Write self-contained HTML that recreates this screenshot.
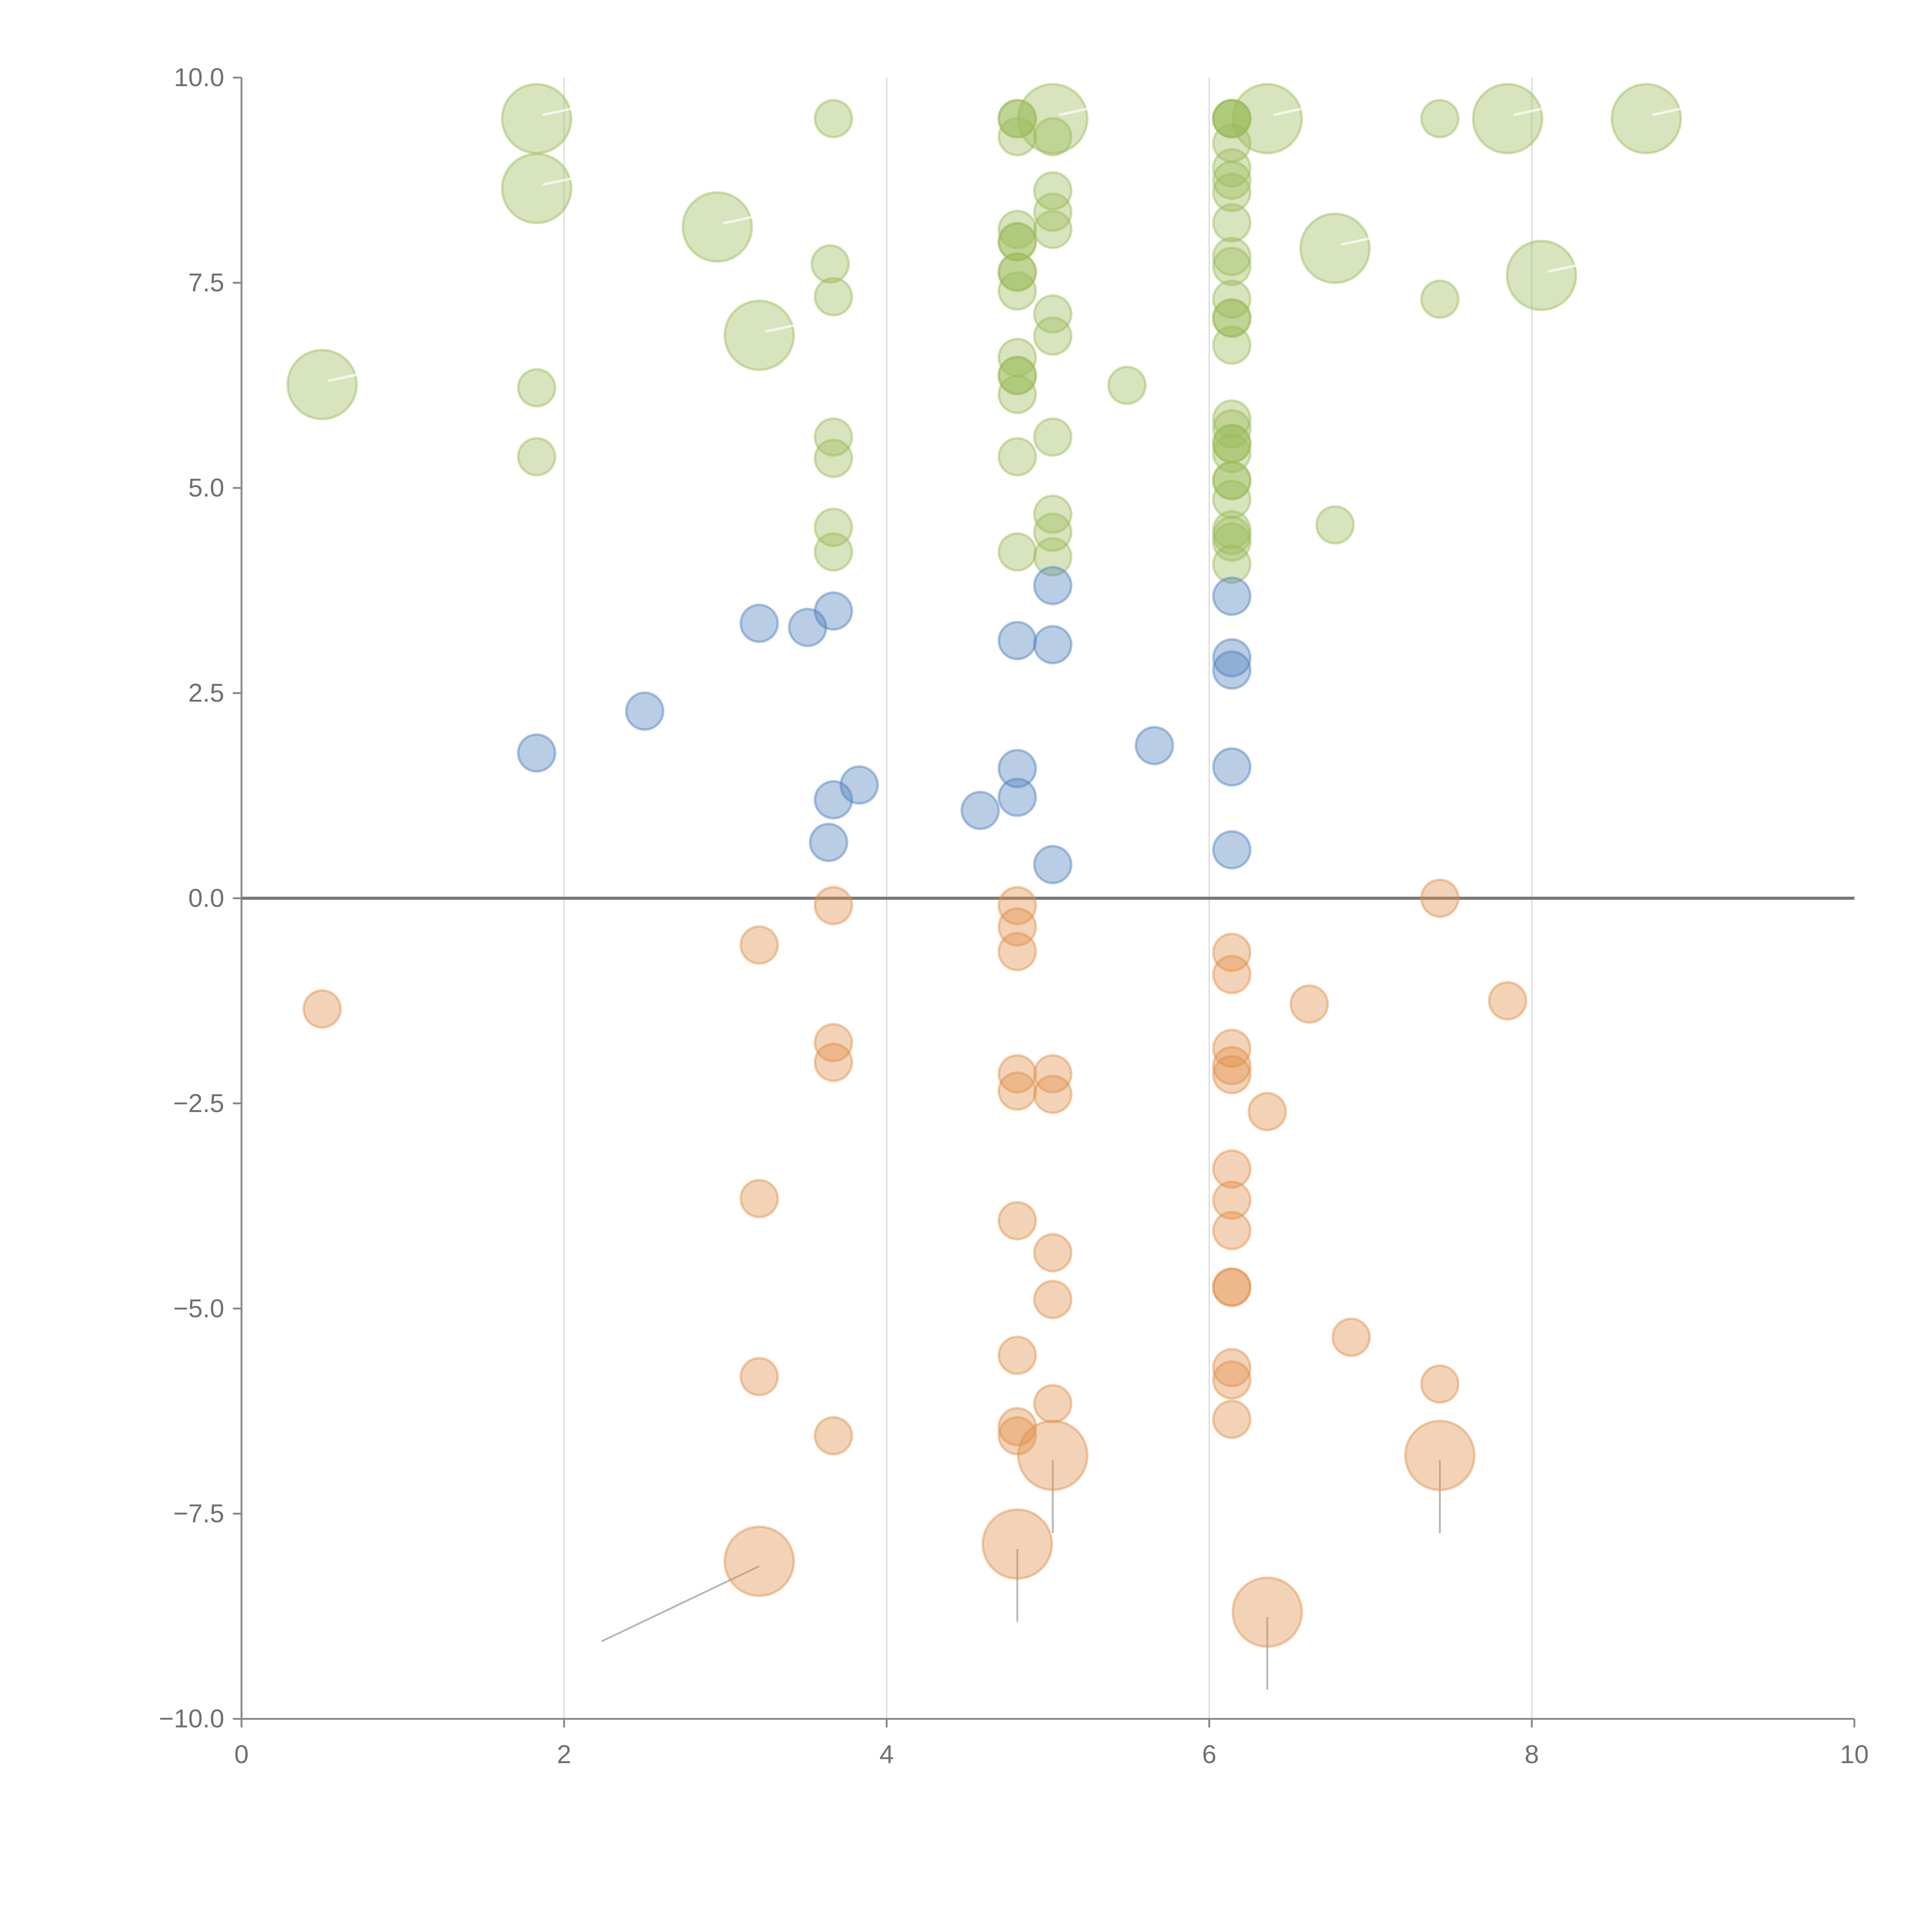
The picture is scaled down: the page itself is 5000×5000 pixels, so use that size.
<!DOCTYPE html>
<html><head><meta charset="utf-8">
<style>html,body{margin:0;padding:0;background:#fff;}svg{display:block;}</style>
</head><body>
<svg id="chart" width="5000" height="5000" viewBox="0 0 1568 1568" xmlns="http://www.w3.org/2000/svg" font-family="'Liberation Sans', sans-serif">
<g id="grid"></g>
<g id="axes"></g>
<g id="leaders"></g>
<g id="marks"></g>
</svg>
<script>
const xTicks = [0, 2, 4, 6, 8, 10];
const yTicks = [10, 7.5, 5, 2.5, 0, -2.5, -5, -7.5, -10];
const yTickLabels = ["10.0","7.5","5.0","2.5","0.0","\u22122.5","\u22125.0","\u22127.5","\u221210.0"];

const greenX = [0.50,1.83,1.83,2.95,3.21,5.03,6.36,6.78,7.85,8.06,8.71,
 3.67,3.65,3.67,3.67,3.67,3.67,3.67,1.83,1.83,
 4.81,4.81,4.81,4.81,4.81,4.81,4.81,4.81,4.81,4.81,4.81,4.81,4.81,4.81,4.81,
 5.03,5.03,5.03,5.03,5.03,5.03,5.03,5.03,5.03,5.03,5.49,6.78,7.43,7.43,
 6.14,6.14,6.14,6.14,6.14,6.14,6.14,6.14,6.14,6.14,6.14,6.14,6.14,6.14,6.14,6.14,6.14,6.14,6.14,6.14,6.14,6.14,6.14,6.14,6.14,6.14];
const greenY = [6.26,9.50,8.65,8.18,6.86,9.50,9.50,7.92,9.50,7.59,9.50,
 9.50,7.73,7.33,5.62,5.36,4.52,4.22,6.22,5.38,
 9.50,9.28,8.15,8.00,7.63,7.40,6.59,6.37,6.14,5.38,4.22,9.50,8.00,7.63,6.37,
 9.28,8.62,8.36,8.15,7.12,6.85,5.62,4.68,4.46,4.16,6.25,4.55,9.50,7.30,
 9.50,9.50,9.50,9.20,8.90,8.75,8.60,8.23,7.82,7.70,7.30,7.07,6.74,5.84,5.72,5.54,5.42,5.09,4.86,4.49,4.34,4.07,7.07,5.54,5.09,4.42];
const greenSize = [2,2,2,2,2,2,2,2,2,2,2].concat(new Array(greenX.length-11).fill(1));

const blueX = [1.83,2.50,3.21,3.51,3.67,3.64,3.67,3.83,4.58,4.81,4.81,4.81,5.03,5.03,5.03,5.66,6.14,6.14,6.14,6.14,6.14];
const blueY = [1.77,2.28,3.35,3.30,3.50,0.68,1.20,1.38,1.07,3.14,1.58,1.23,3.81,3.09,0.41,1.86,3.68,2.93,2.78,1.60,0.59];
const blueSize = new Array(blueX.length).fill(1);

const orangeX = [0.50,3.21,3.21,3.21,3.67,3.67,3.67,3.67,4.81,4.81,4.81,4.81,4.81,4.81,4.81,4.81,4.81,5.03,5.03,5.03,5.03,5.03,
 6.14,6.14,6.14,6.14,6.14,6.14,6.14,6.14,6.14,6.14,6.14,6.14,6.14,6.36,6.62,6.88,7.43,7.43,7.85,
 3.21,4.81,5.03,6.36,7.43];
const orangeY = [-1.35,-0.57,-3.66,-5.83,-0.09,-1.76,-2.00,-6.55,-0.09,-0.35,-0.65,-2.14,-2.35,-3.93,-5.57,-6.44,-6.55,-2.14,-2.39,-4.32,-4.89,-6.16,
 -0.66,-0.93,-1.83,-2.04,-2.15,-3.30,-3.68,-4.05,-4.74,-4.74,-5.72,-5.87,-6.35,-2.60,-1.29,-5.35,0.00,-5.92,-1.25,
 -8.08,-7.87,-6.79,-8.70,-6.79];
const orangeSize = new Array(41).fill(1).concat([2,2,2,2,2]);

const NS = "http://www.w3.org/2000/svg";
const X0 = 196, X1 = 1505, Y0 = 1395, Y1 = 63;
function xs(v){ return X0 + (v - 0) / 10 * (X1 - X0); }
function ys(v){ return Y0 - (v + 10) / 20 * (Y0 - Y1); }
function rs(s){ return s === 2 ? 28 : 15; }
function mk(tag, attrs, parent){
  const e = document.createElementNS(NS, tag);
  for (const k in attrs) e.setAttribute(k, attrs[k]);
  parent.appendChild(e); return e;
}
const grid = document.getElementById('grid');
const axes = document.getElementById('axes');
const leaders = document.getElementById('leaders');
const marks = document.getElementById('marks');

xTicks.forEach(t => {
  if (t > 0 && t < 10) {
    const g = mk('line', {x1: xs(t), x2: xs(t), y1: Y1, y2: Y0, stroke: '#d9d9d9', 'stroke-width': 1}, grid);
    
    
  }
  const tk = mk('line', {x1: xs(t), x2: xs(t), y1: Y0, y2: Y0 + 7, stroke: '#888', 'stroke-width': 1.5}, axes);
  
  
  const lb = mk('text', {x: xs(t), y: Y0 + 36, 'text-anchor': 'middle', 'font-size': 21, fill: '#707070'}, axes);
  lb.textContent = String(t);
  
  
});
yTicks.forEach((t, i) => {
  const tk = mk('line', {x1: X0 - 7, x2: X0, y1: ys(t), y2: ys(t), stroke: '#888', 'stroke-width': 1.5}, axes);
  
  
  const lb = mk('text', {x: X0 - 14, y: ys(t) + 7, 'text-anchor': 'end', 'font-size': 21, fill: '#707070'}, axes);
  lb.textContent = yTickLabels[i];
  
  
});
const ya = mk('line', {x1: X0, x2: X0, y1: Y1, y2: Y0, stroke: '#888', 'stroke-width': 1.5}, axes);


const xa = mk('line', {x1: X0, x2: X1, y1: Y0, y2: Y0, stroke: '#888', 'stroke-width': 1.5}, axes);


const zl = mk('line', {x1: X0, x2: X1, y1: ys(0), y2: ys(0), stroke: '#777', 'stroke-width': 2.5}, axes);



function series(xArr, yArr, sArr, color, name){
  for (let i = 0; i < xArr.length; i++) {
    const c = mk('circle', {cx: xs(xArr[i]), cy: ys(yArr[i]), r: rs(sArr[i]), fill: color, 'fill-opacity': 0.4, stroke: color, 'stroke-opacity': 0.45, 'stroke-width': 2}, marks);
    
    
  }
}
series(greenX, greenY, greenSize, '#9bbb59', 'green-bubble');
series(blueX, blueY, blueSize, '#4f81bd', 'blue-bubble');
series(orangeX, orangeY, orangeSize, '#e0914a', 'orange-bubble');

for (let i = 0; i < orangeX.length; i++) {
  if (orangeSize[i] !== 2) continue;
  const cx = xs(orangeX[i]), cy = ys(orangeY[i]);
  let x2 = cx, y2 = cy + 63;
  if (i === 41) { x2 = cx - 128; y2 = cy + 65; }
  const l = mk('line', {x1: cx, y1: cy + 4, x2: x2, y2: y2, stroke: '#999', 'stroke-opacity': 0.7, 'stroke-width': 1.5}, leaders);
  
  
}
for (let i = 0; i < 11; i++) {
  const cx = xs(greenX[i]), cy = ys(greenY[i]);
  const l = mk('line', {x1: cx + 5, y1: cy - 3, x2: cx + 28, y2: cy - 8, stroke: '#fff', 'stroke-opacity': 0.7, 'stroke-width': 2}, marks);
  
  
}
</script>
</body></html>
